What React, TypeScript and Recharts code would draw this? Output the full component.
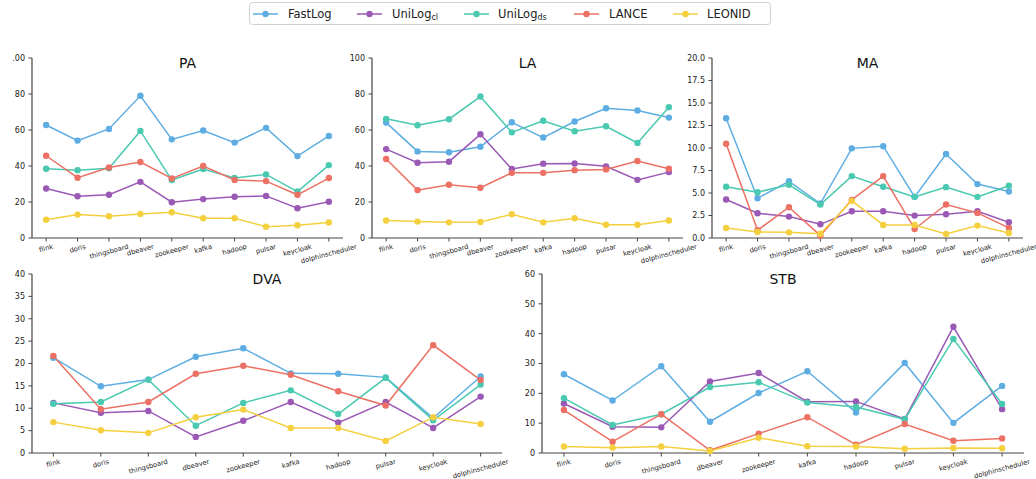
import React from 'react';
import { LineChart, Line, XAxis, YAxis } from 'recharts';

const categories = ['flink', 'doris', 'thingsboard', 'dbeaver', 'zookeeper', 'kafka', 'hadoop', 'pulsar', 'keycloak', 'dolphinscheduler'];

const seriesNames = ['FastLog', 'UniLogCl', 'UniLogDs', 'LANCE', 'LEONID'];
const seriesColors = ['#5DADE2', '#9B59B6', '#48C9B0', '#EC7063', '#F4D03F'];

// PA
const paFastLog = [62.8, 54.1, 60.6, 79.0, 54.8, 59.7, 53.0, 61.2, 45.5, 56.7];
const paUniLogCl = [27.5, 23.2, 24.0, 31.2, 19.9, 21.6, 22.9, 23.4, 16.5, 20.1];
const paUniLogDs = [38.5, 37.7, 38.7, 59.5, 32.2, 38.3, 33.3, 35.3, 25.8, 40.5];
const paLance = [45.7, 33.5, 39.2, 42.2, 33.1, 40.0, 32.2, 31.6, 24.0, 33.3];
const paLeonid = [10.2, 13.0, 12.1, 13.4, 14.3, 11.0, 11.0, 6.3, 7.1, 8.6];

// LA
const laFastLog = [64.1, 48.1, 47.6, 50.7, 64.3, 55.8, 64.7, 72.1, 70.8, 66.9];
const laUniLogCl = [49.4, 41.8, 42.4, 57.6, 38.3, 41.3, 41.4, 39.8, 32.3, 36.6];
const laUniLogDs = [66.2, 62.6, 66.0, 78.6, 58.7, 65.1, 59.3, 62.1, 52.8, 72.7];
const laLance = [43.9, 26.6, 29.6, 27.9, 36.2, 36.2, 37.7, 38.1, 42.8, 38.5];
const laLeonid = [9.7, 9.1, 8.7, 8.9, 13.2, 8.7, 11.0, 7.4, 7.4, 9.7];

// MA
const maFastLog = [13.3, 4.42, 6.3, 3.83, 9.96, 10.2, 4.57, 9.33, 5.99, 5.17];
const maUniLogCl = [4.28, 2.75, 2.38, 1.52, 2.97, 2.97, 2.49, 2.64, 2.97, 1.75];
const maUniLogDs = [5.69, 5.09, 5.91, 3.72, 6.88, 5.69, 4.57, 5.65, 4.57, 5.8];
const maLance = [10.48, 0.86, 3.42, 0.26, 4.24, 6.88, 1.0, 3.72, 2.79, 1.12];
const maLeonid = [1.12, 0.67, 0.63, 0.48, 4.13, 1.45, 1.45, 0.45, 1.38, 0.56];

// DVA
const dvaFastLog = [21.3, 14.9, 16.4, 21.5, 23.4, 17.8, 17.7, 16.9, 7.8, 17.1];
const dvaUniLogCl = [11.2, 9.0, 9.4, 3.6, 7.2, 11.4, 6.8, 11.4, 5.6, 12.6];
const dvaUniLogDs = [11.0, 11.4, 16.4, 6.1, 11.2, 14.0, 8.7, 16.8, 7.3, 15.3];
const dvaLance = [21.7, 9.8, 11.4, 17.7, 19.5, 17.5, 13.8, 10.6, 24.1, 16.3];
const dvaLeonid = [6.9, 5.1, 4.5, 8.0, 9.7, 5.6, 5.6, 2.7, 8.0, 6.5];

// STB
const stbFastLog = [26.4, 17.6, 29.1, 10.5, 20.1, 27.4, 13.6, 30.2, 10.1, 22.5];
const stbUniLogCl = [16.6, 8.8, 8.6, 24.0, 26.8, 17.2, 17.3, 11.4, 42.3, 14.7];
const stbUniLogDs = [18.4, 9.4, 13.0, 22.1, 23.7, 16.9, 15.4, 11.3, 38.2, 16.4];
const stbLance = [14.4, 3.8, 13.0, 0.9, 6.5, 12.0, 2.8, 9.7, 4.1, 4.9];
const stbLeonid = [2.2, 1.8, 2.2, 0.7, 5.1, 2.3, 2.2, 1.4, 1.7, 1.6];

const pctTicks = [0, 20, 40, 60, 80, 100];
const maTicks = [0, 2.5, 5, 7.5, 10, 12.5, 15, 17.5, 20];
const dvaTicks = [0, 5, 10, 15, 20, 25, 30, 35, 40];
const stbTicks = [0, 10, 20, 30, 40, 50, 60];

const FONT = 'DejaVu Sans, sans-serif';
const AXIS_COLOR = '#444';
const TEXT_COLOR = '#222';

function buildRows(lists: number[][]) {
  return categories.map((name, i) => {
    const row: any = { name };
    seriesNames.forEach((s, k) => {
      row[s] = lists[k][i];
    });
    return row;
  });
}

let ctx: CanvasRenderingContext2D | null = null;
function measure(text: string, size: number) {
  if (!ctx) {
    const c = document.createElement('canvas');
    ctx = c.getContext('2d');
  }
  if (!ctx) return text.length * size * 0.55;
  ctx.font = `${size}px "DejaVu Sans"`;
  return ctx.measureText(text).width;
}

const XTick = (props: any) => {
  const { x, y, payload } = props;
  const label = String(payload.value);
  const fs = 6.7;
  const w = measure(label, fs);
  const h = fs * 0.95;
  const a = (15 * Math.PI) / 180;
  const bh = w * Math.sin(a) + h * Math.cos(a);
  const cy = y + bh / 2;
  return (
    <g transform={`translate(${x},${cy}) rotate(-15)`}>
      <text textAnchor="middle" dominantBaseline="central" fontSize={fs} fill={TEXT_COLOR} fontFamily={FONT}>
        {label}
      </text>
    </g>
  );
};

type PanelProps = {
  title: string;
  rows: any[];
  domain: [number, number];
  ticks: number[];
  fmt: (v: number) => string;
  px: number;
  py: number;
  pw: number;
  ph: number;
};

const Panel = ({ title, rows, domain, ticks, fmt, px, py, pw, ph }: PanelProps) => {
  const yw = 40;
  const mt = 12;
  const mr = 26;
  const xh = 44;
  const pad = (pw * 0.05) / 1.1;
  return (
    <div style={{ position: 'absolute', left: px - yw, top: py - mt }}>
      <LineChart width={yw + pw + mr} height={mt + ph + xh} data={rows} margin={{ top: mt, right: mr, left: 0, bottom: 0 }}>
        <XAxis
          dataKey="name"
          type="category"
          interval={0}
          padding={{ left: pad, right: pad }}
          height={xh}
          tick={<XTick />}
          tickSize={3.5}
          tickMargin={2}
          axisLine={{ stroke: AXIS_COLOR, strokeWidth: 1.2 }}
          tickLine={{ stroke: AXIS_COLOR, strokeWidth: 1 }}
        />
        <YAxis
          type="number"
          domain={domain}
          ticks={ticks}
          width={yw}
          interval={0}
          tickFormatter={fmt}
          tickSize={3.5}
          tickMargin={3.5}
          tick={{ fontSize: 8, fill: TEXT_COLOR, fontFamily: FONT }}
          axisLine={{ stroke: AXIS_COLOR, strokeWidth: 1.2 }}
          tickLine={{ stroke: AXIS_COLOR, strokeWidth: 1 }}
        />
        {seriesNames.map((s, k) => (
          <Line
            key={s}
            dataKey={s}
            type="linear"
            stroke={seriesColors[k]}
            strokeWidth={1.5}
            dot={{ r: 3.2, fill: seriesColors[k], stroke: seriesColors[k], strokeWidth: 0 }}
            activeDot={false}
            isAnimationActive={false}
          />
        ))}
      </LineChart>
      <div
        style={{
          position: 'absolute',
          left: yw,
          width: pw,
          top: mt - 3,
          textAlign: 'center',
          fontFamily: FONT,
          fontSize: 14,
          lineHeight: '16px',
          color: '#111',
          pointerEvents: 'none',
        }}
      >
        {title}
      </div>
    </div>
  );
};

const legendItems = [
  { base: 'FastLog', sub: '', hx: 253, tx: 288 },
  { base: 'UniLog', sub: 'cl', hx: 357, tx: 392 },
  { base: 'UniLog', sub: 'ds', hx: 464, tx: 498 },
  { base: 'LANCE', sub: '', hx: 574, tx: 609 },
  { base: 'LEONID', sub: '', hx: 673, tx: 707 },
];

const Legend = () => (
  <svg width={1036} height={30} style={{ position: 'absolute', left: 0, top: 0 }}>
    <rect x={249.5} y={2.5} width={521} height={22} rx={3} fill="#fff" stroke="#d0d0d0" strokeWidth={1} />
    {legendItems.map((it, k) => (
      <g key={k}>
        <line x1={it.hx} x2={it.hx + 25} y1={14} y2={14} stroke={seriesColors[k]} strokeWidth={1.5} />
        <circle cx={it.hx + 12.5} cy={14} r={3.2} fill={seriesColors[k]} />
        <text x={it.tx} y={18} fontSize={11.5} fontFamily={FONT} fill={TEXT_COLOR}>
          {it.base}
          {it.sub ? (
            <tspan fontSize={8} dy={2}>
              {it.sub}
            </tspan>
          ) : null}
        </text>
      </g>
    ))}
  </svg>
);

const intFmt = (v: number) => String(v);
const paFmt = (v: number) => (v === 100 ? '.00' : String(v));
const maFmt = (v: number) => v.toFixed(1);

export default function App() {
  return (
    <div style={{ position: 'absolute', left: 0, top: 0, width: 1036, height: 479, background: '#fff', overflow: 'hidden' }}>
      <Legend />
      <Panel title="PA" rows={buildRows([paFastLog, paUniLogCl, paUniLogDs, paLance, paLeonid])} domain={[0, 100]} ticks={pctTicks} fmt={paFmt} px={32} py={58} pw={311} ph={180} />
      <Panel title="LA" rows={buildRows([laFastLog, laUniLogCl, laUniLogDs, laLance, laLeonid])} domain={[0, 100]} ticks={pctTicks} fmt={intFmt} px={372} py={58} pw={311} ph={180} />
      <Panel title="MA" rows={buildRows([maFastLog, maUniLogCl, maUniLogDs, maLance, maLeonid])} domain={[0, 20]} ticks={maTicks} fmt={maFmt} px={712} py={58} pw={311} ph={180} />
      <Panel title="DVA" rows={buildRows([dvaFastLog, dvaUniLogCl, dvaUniLogDs, dvaLance, dvaLeonid])} domain={[0, 40]} ticks={dvaTicks} fmt={intFmt} px={32} py={274} pw={470} ph={179} />
      <Panel title="STB" rows={buildRows([stbFastLog, stbUniLogCl, stbUniLogDs, stbLance, stbLeonid])} domain={[0, 60]} ticks={stbTicks} fmt={intFmt} px={542} py={274} pw={482} ph={179} />
    </div>
  );
}
